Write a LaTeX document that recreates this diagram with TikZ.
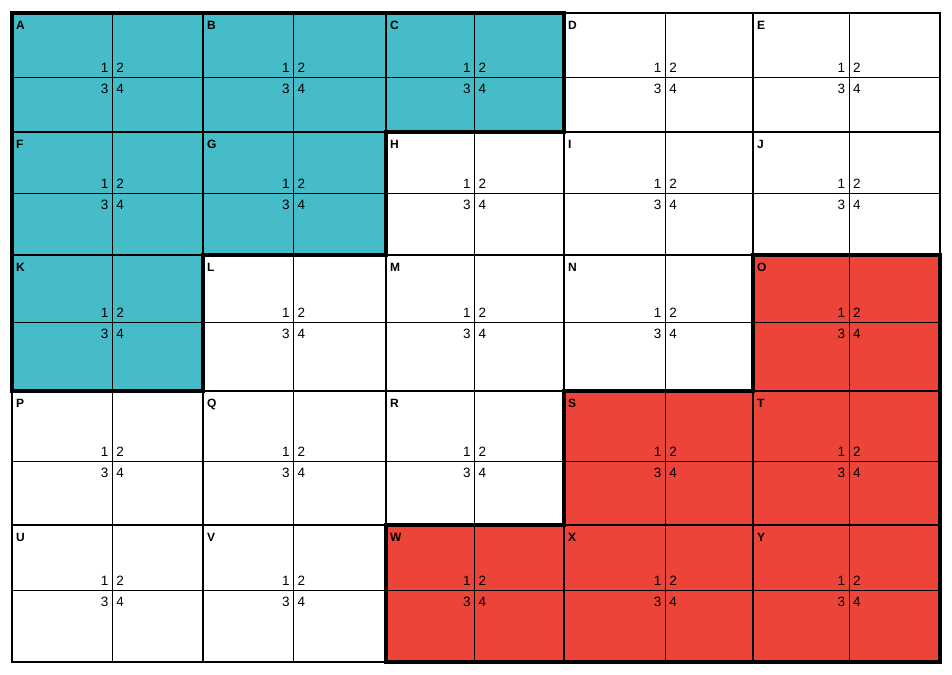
\documentclass[tikz,border=0pt]{standalone}
\usepackage{fontspec}
\setmainfont{Liberation Sans}
\definecolor{tealfill}{RGB}{69,188,199}
\definecolor{redfill}{RGB}{236,68,56}
\begin{document}
\begin{tikzpicture}[x=1pt,y=-1pt,
  cellline/.style={line width=2pt},
  crossline/.style={line width=1pt},
  frameline/.style={line width=2.6pt},
  regionline/.style={line width=3.6pt, line join=miter},
  lbl/.style={font=\fontsize{12}{12}\selectfont\bfseries, inner sep=0pt, anchor=base west},
  dig/.style={font=\fontsize{13.5}{13.5}\selectfont, inner sep=0pt}]
\useasboundingbox (0,0) rectangle (952,674);
\def\xs{{12,203,386,564,753,940}}
\def\ys{{13,132,255,391,525,662}}
\def\vs{{112.5,293.8,474.8,665.5,849.3}}
\def\hs{{77.3,193.3,322.3,461,590.3}}
% region fills
\fill[tealfill] (12,13)--(564,13)--(564,132)--(386,132)--(386,255)--(203,255)--(203,391)--(12,391)--cycle;
\fill[redfill] (753,255)--(940,255)--(940,662)--(386,662)--(386,525)--(564,525)--(564,391)--(753,391)--cycle;
% inner cross lines
\foreach \v in {112.5,293.8,474.8,665.5,849.3}{\draw[crossline] (\v,13) -- (\v,662);}
\foreach \h in {77.3,193.3,322.3,461,590.3}{\draw[crossline] (12,\h) -- (940,\h);}
% cell borders
\foreach \v in {203,386,564,753}{\draw[cellline] (\v,13) -- (\v,662);}
\foreach \h in {132,255,391,525}{\draw[cellline] (12,\h) -- (940,\h);}
\draw[frameline] (12,13) rectangle (940,662);
% region outlines
\draw[regionline] (12,13)--(564,13)--(564,132)--(386,132)--(386,255)--(203,255)--(203,391)--(12,391)--cycle;
\draw[regionline] (753,255)--(940,255)--(940,662)--(386,662)--(386,525)--(564,525)--(564,391)--(753,391)--cycle;
% labels and digits
\foreach \L [count=\n from 0] in {A,B,C,D,E,F,G,H,I,J,K,L,M,N,O,P,Q,R,S,T,U,V,W,X,Y}{
  \pgfmathtruncatemacro\rowi{\n/5}
  \pgfmathtruncatemacro\coli{mod(\n,5)}
  \pgfmathsetmacro\cellx{\xs[\coli]}
  \pgfmathsetmacro\celly{\ys[\rowi]}
  \pgfmathsetmacro\midx{\vs[\coli]}
  \pgfmathsetmacro\midy{\hs[\rowi]}
  \node[lbl] (lab\L) at (\cellx+4,\celly+16.3) {\L};
  \node[dig,anchor=base east] (one\L) at (\midx-4,\midy-4.8) {1};
  \node[dig,anchor=base west] (two\L) at (\midx+3.6,\midy-4.8) {2};
  \node[dig,anchor=base east] (three\L) at (\midx-4,\midy+16.5) {3};
  \node[dig,anchor=base west] (four\L) at (\midx+3.6,\midy+16.5) {4};
}
\end{tikzpicture}
\end{document}
